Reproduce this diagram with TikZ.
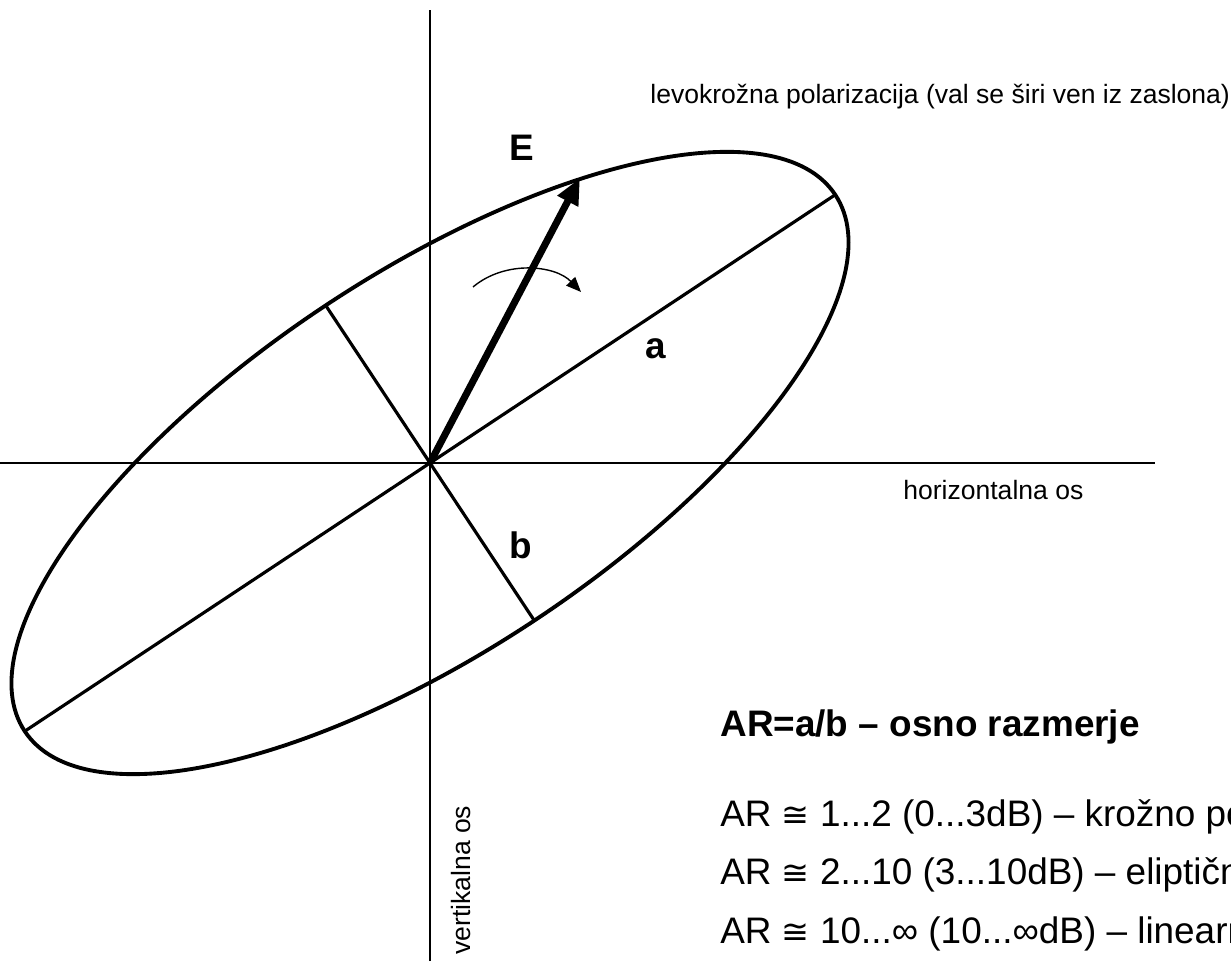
\documentclass[tikz,border=0pt]{standalone}
\usepackage{fontspec}
\setmainfont{Liberation Sans}
\newfontfamily\symbolfont{DejaVu Sans}
\usetikzlibrary{arrows.meta}

\tikzstyle{axisline} = [draw=black, line width=1.2pt]
\tikzstyle{ellipseline} = [draw=black, line width=2.2pt]
\tikzstyle{halfaxis} = [draw=black, line width=1.8pt]
\tikzstyle{field} = [-{Triangle[length=15pt, width=12.5pt]}, draw=black, line width=4pt]
\tikzstyle{turn} = [-{Triangle[length=8.5pt, width=7pt]}, draw=black, line width=0.8pt]
\tikzstyle{smalllabel} = [inner sep=0pt, anchor=base west, font=\fontsize{15.1}{18}\selectfont]
\tikzstyle{biglabel} = [inner sep=0pt, font=\fontsize{21}{25}\selectfont\bfseries]
\tikzstyle{textline} = [inner sep=0pt, anchor=base west, font=\fontsize{21}{25}\selectfont]

\newcommand{\approxeq}{{\fontsize{19}{25}\symbolfont ≅}}

\begin{document}
\begin{tikzpicture}
    \useasboundingbox (0,0) rectangle (24.62,19.22);

    % axes
    \coordinate (O) at (8.6,9.96);
    \coordinate (vtop) at (8.6,19.02);
    \coordinate (vbot) at (8.6,0);
    \coordinate (hleft) at (0,9.96);
    \coordinate (hright) at (23.1,9.96);
    \draw [axisline] (vbot) -- (vtop);
    \draw [axisline] (hleft) -- (hright);

    % ellipse with both half axes
    \draw [ellipseline, rotate around={33.5:(O)}] (O) ellipse [x radius=9.72, y radius=3.78];
    \coordinate (amax) at ([shift={(33.5:9.72)}]O);
    \coordinate (amin) at ([shift={(213.5:9.72)}]O);
    \coordinate (bmax) at ([shift={(123.5:3.78)}]O);
    \coordinate (bmin) at ([shift={(303.5:3.78)}]O);
    \draw [halfaxis] (amin) -- (amax);
    \draw [halfaxis] (bmax) -- (bmin);

    % field vector and its turn
    \coordinate (Etip) at (11.6,15.66);
    \draw [field] (O) -- (Etip);
    \coordinate (turnA) at (9.46,13.48);
    \coordinate (turnB) at (11.62,13.38);
    \draw [turn] (turnA) .. controls (10.1,14.02) and (11.1,13.92) .. (turnB);

    \node (E) [biglabel] at (10.44,16.26) {E};
    \node (a) [biglabel] at (13.12,12.24) {a};
    \node (b) [biglabel] at (10.42,8.32) {b};

    \node (lev) [smalllabel] at (13.0,17.14) {levokrožna polarizacija (val se širi ven iz zaslona)};
    \node (hor) [smalllabel] at (18.06,9.22) {horizontalna os};
    \node (ver) [smalllabel, rotate=90] at (9.4,0.12) {vertikalna os};

    \node (ar) [textline, font=\fontsize{21}{25}\selectfont\bfseries] at (14.4,4.48) {AR=a/b – osno razmerje};
    \node (ar1) [textline] at (14.4,2.70) {AR \approxeq{} 1...2 (0...3dB) – krožno polarizirano};
    \node (ar2) [textline] at (14.4,1.54) {AR \approxeq{} 2...10 (3...10dB) – eliptično polarizirano};
    \node (ar3) [textline] at (14.4,0.36) {AR \approxeq{} 10...∞ (10...∞dB) – linearno polarizirano};
\end{tikzpicture}
\end{document}
